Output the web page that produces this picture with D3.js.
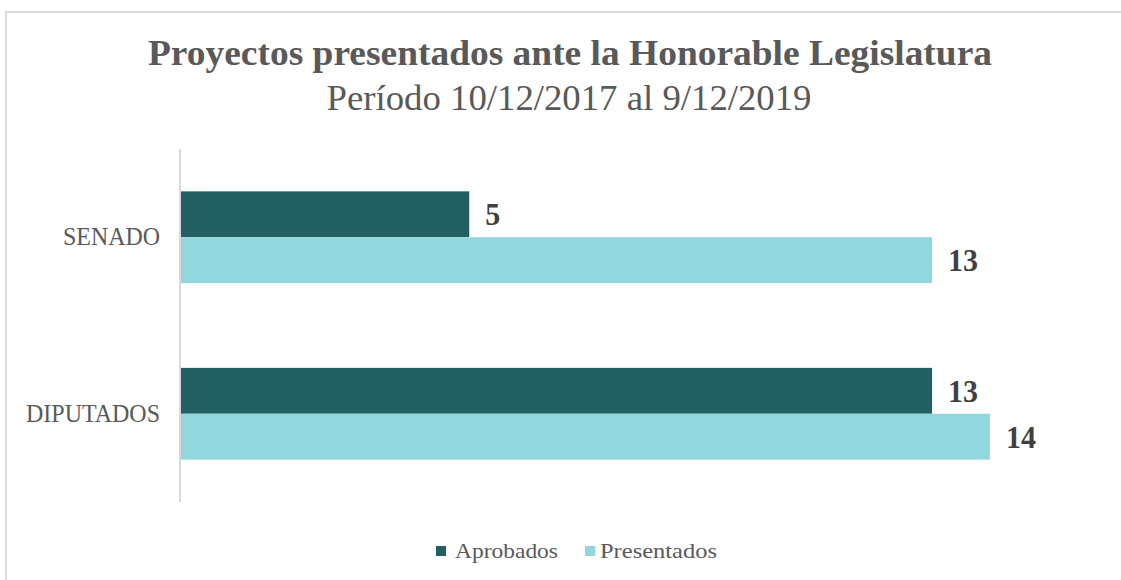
<!DOCTYPE html>
<html>
<head>
<meta charset="utf-8">
<script src="https://cdn.jsdelivr.net/npm/d3@7"></script>
<style>
  html, body { margin: 0; padding: 0; background: #ffffff; }
  svg { display: block; }
  text { font-family: "Liberation Serif", "Times New Roman", serif; }
</style>
</head>
<body>
<script>
// Chart data
const categories = ["SENADO", "DIPUTADOS"];
const seriesNames = ["Aprobados", "Presentados"];
const aprobados = [5, 13];
const presentados = [13, 14];
const titleText = "Proyectos presentados ante la Honorable Legislatura";
const subtitleText = "Período 10/12/2017 al 9/12/2019";

const W = 1121, H = 580;
const colors = { Aprobados: "#215f63", Presentados: "#91d7dd" };

const svg = d3.select("body").append("svg")
  .attr("width", W).attr("height", H);

// Outer chart frame
svg.append("rect")
  .attr("x", 6).attr("y", 12)
  .attr("width", W + 10).attr("height", H + 10)
  .attr("fill", "#ffffff")
  .attr("stroke", "#d9d9d9").attr("stroke-width", 2);

// Titles
svg.append("text")
  .attr("x", 570).attr("y", 65)
  .attr("text-anchor", "middle")
  .attr("font-size", 35).attr("font-weight", "bold")
  .attr("fill", "#595959")
  .attr("textLength", 844).attr("lengthAdjust", "spacingAndGlyphs")
  .text(titleText);

svg.append("text")
  .attr("x", 569).attr("y", 110)
  .attr("text-anchor", "middle")
  .attr("font-size", 36)
  .attr("fill", "#595959")
  .attr("textLength", 485).attr("lengthAdjust", "spacingAndGlyphs")
  .text(subtitleText);

// Plot area
const plot = { left: 180, top: 149, bottom: 502 };
const x = d3.scaleLinear().domain([0, 1]).range([plot.left, plot.left + 57.85]);
const y = d3.scaleBand().domain(categories).range([plot.top, plot.bottom]).paddingInner(0.48).paddingOuter(0.24);
const ySub = d3.scaleBand().domain(seriesNames).range([0, y.bandwidth()]);

const rows = categories.map((c, i) => ({
  category: c,
  values: [
    { series: "Aprobados", value: aprobados[i] },
    { series: "Presentados", value: presentados[i] }
  ]
}));

const groups = svg.append("g").selectAll("g")
  .data(rows).join("g")
  .attr("transform", d => `translate(0,${y(d.category)})`);

groups.selectAll("rect")
  .data(d => d.values).join("rect")
  .attr("x", x(0))
  .attr("y", d => ySub(d.series))
  .attr("width", d => x(d.value) - x(0))
  .attr("height", ySub.bandwidth())
  .attr("fill", d => colors[d.series]);

// Value labels
groups.selectAll("text.val")
  .data(d => d.values).join("text")
  .attr("class", "val")
  .attr("x", d => x(d.value) + 16)
  .attr("y", d => ySub(d.series) + ySub.bandwidth() / 2 + 11)
  .attr("font-size", 32).attr("font-weight", "bold")
  .attr("fill", "#404040")
  .attr("textLength", d => String(d.value).length * 15)
  .attr("lengthAdjust", "spacingAndGlyphs")
  .text(d => d.value);

// Category axis
const yAxis = d3.axisLeft(y).tickSize(0).tickPadding(20);
const axisG = svg.append("g")
  .attr("transform", `translate(${plot.left},0)`)
  .call(yAxis);
axisG.select(".domain")
  .attr("stroke", "#d9d9d9").attr("stroke-width", 2)
  .attr("d", `M0,${plot.top}V${plot.bottom}`);
axisG.selectAll(".tick text")
  .attr("font-size", 25)
  .attr("fill", "#595959")
  .attr("dy", "0.32em")
  .attr("textLength", d => d === "SENADO" ? 97 : 134)
  .attr("lengthAdjust", "spacingAndGlyphs");

// Legend
const legendItems = [
  { name: "Aprobados", sx: 436, tx: 455, tw: 103 },
  { name: "Presentados", sx: 585, tx: 600, tw: 117 }
];
const legend = svg.append("g");
legend.selectAll("rect")
  .data(legendItems).join("rect")
  .attr("x", d => d.sx).attr("y", 546)
  .attr("width", 10).attr("height", 10)
  .attr("fill", d => colors[d.name]);
legend.selectAll("text")
  .data(legendItems).join("text")
  .attr("x", d => d.tx).attr("y", 558)
  .attr("font-size", 22)
  .attr("fill", "#595959")
  .attr("textLength", d => d.tw).attr("lengthAdjust", "spacingAndGlyphs")
  .text(d => d.name);
</script>
</body>
</html>
